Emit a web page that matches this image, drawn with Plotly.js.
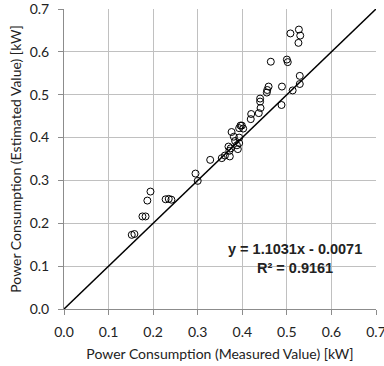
<!DOCTYPE html>
<html>
<head>
<meta charset="utf-8">
<script src="https://cdn.plot.ly/plotly-3.0.1.min.js"></script>
<style>html,body{margin:0;padding:0;background:#fff;}#chart{width:384px;height:366px;}</style>
</head>
<body>
<div id="chart"></div>
<script>
const measured = [0.527,0.530,0.508,0.526,0.464,0.500,0.502,0.529,0.529,0.513,0.489,0.488,0.459,0.456,0.455,0.440,0.440,0.441,0.437,0.420,0.419,0.396,0.399,0.393,0.402,0.376,0.381,0.393,0.384,0.393,0.369,0.388,0.374,0.390,0.371,0.361,0.372,0.354,0.328,0.295,0.300,0.228,0.235,0.241,0.194,0.187,0.176,0.183,0.152,0.158];
const estimated = [0.652,0.638,0.643,0.621,0.577,0.582,0.576,0.544,0.525,0.510,0.519,0.476,0.519,0.511,0.505,0.491,0.484,0.469,0.457,0.455,0.443,0.428,0.428,0.422,0.421,0.413,0.402,0.400,0.392,0.387,0.379,0.382,0.375,0.373,0.369,0.358,0.356,0.352,0.348,0.316,0.299,0.256,0.257,0.255,0.274,0.253,0.216,0.216,0.173,0.175];
const refLineX = [0, 0.7];
const refLineY = [0, 0.7];
const tickVals = [0,0.1,0.2,0.3,0.4,0.5,0.6,0.7];
const tickText = ['0.0','0.1','0.2','0.3','0.4','0.5','0.6','0.7'];
const eqText = 'y = 1.1031x - 0.0071';
const r2Text = 'R² = 0.9161';

const tickFont = {family: 'Lato, Calibri, sans-serif', size: 14, color: '#222'};
const titleFont = {family: 'Lato, Calibri, sans-serif', size: 14, color: '#222'};
const axisCommon = {
  range: [0, 0.7], tickvals: tickVals, ticktext: tickText,
  showgrid: true, gridcolor: '#c0c0c0', gridwidth: 1,
  showline: true, linecolor: '#8c8c8c', linewidth: 1,
  ticks: 'outside', ticklen: 5, tickcolor: '#8c8c8c',
  zeroline: false, tickfont: tickFont, fixedrange: true,
  ticklabeloverflow: 'allow'
};

const data = [
  {x: refLineX, y: refLineY, mode: 'lines', type: 'scatter', line: {color: '#000', width: 1.5}, hoverinfo: 'skip', cliponaxis: false},
  {x: measured, y: estimated, mode: 'markers', type: 'scatter',
   marker: {symbol: 'circle', size: 7, color: 'rgba(255,255,255,0)', line: {color: '#000', width: 1}}, cliponaxis: false}
];

const eqFont = {family: 'Liberation Sans, Arial, sans-serif', size: 14.5, color: '#222', weight: 'bold'};

const layout = {
  width: 384, height: 366,
  margin: {l: 64, r: 8, t: 9, b: 57},
  paper_bgcolor: '#fff', plot_bgcolor: '#fff',
  showlegend: false,
  xaxis: Object.assign({}, axisCommon, {
    ticklabelstandoff: 5,
    title: {text: 'Power Consumption (Measured Value) [kW]', font: titleFont, standoff: 10}
  }),
  yaxis: Object.assign({}, axisCommon, {
    ticklabelstandoff: 6,
    title: {text: 'Power Consumption (Estimated Value) [kW]', font: titleFont, standoff: 4}
  }),
  annotations: [
    {x: 0.518, y: 0.1407, xref: 'x', yref: 'y', text: eqText, showarrow: false, font: eqFont},
    {x: 0.518, y: 0.0964, xref: 'x', yref: 'y', text: r2Text, showarrow: false, font: eqFont}
  ]
};

Plotly.newPlot('chart', data, layout, {displayModeBar: false, staticPlot: true});
</script>
</body>
</html>
